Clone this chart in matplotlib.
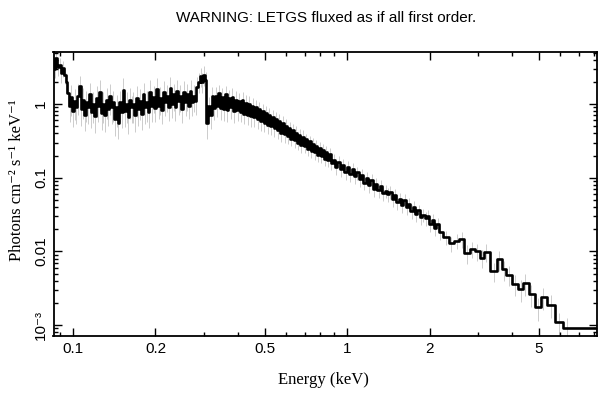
import numpy as np
import matplotlib
matplotlib.use("Agg")
import matplotlib.pyplot as plt
from matplotlib.ticker import FixedLocator, FixedFormatter, NullFormatter, LogLocator

plt.rcParams['font.family'] = ['Liberation Sans', 'DejaVu Sans']

# LETGS spectrum: bin centres (keV), flux, relative error
energy_soft = [0.0845, 0.0857, 0.0869, 0.0882, 0.0894, 0.0907, 0.0920, 0.0933, 0.0946, 0.0959,
               0.0973, 0.0987, 0.1001, 0.1015, 0.1029, 0.1044, 0.1059, 0.1074, 0.1089, 0.1104,
               0.1120, 0.1136, 0.1152, 0.1168, 0.1185, 0.1202, 0.1219, 0.1236, 0.1254, 0.1272,
               0.1290, 0.1308, 0.1327, 0.1346, 0.1365, 0.1384, 0.1404, 0.1424, 0.1444, 0.1464,
               0.1485, 0.1506, 0.1528, 0.1549, 0.1571, 0.1594, 0.1616, 0.1639, 0.1662, 0.1686,
               0.1710, 0.1734, 0.1759, 0.1784, 0.1809, 0.1835, 0.1861, 0.1887, 0.1914, 0.1941,
               0.1969, 0.1997, 0.2025, 0.2054, 0.2083, 0.2113, 0.2143, 0.2173, 0.2204, 0.2236,
               0.2267, 0.2300, 0.2332, 0.2365, 0.2399, 0.2433, 0.2468, 0.2503, 0.2538, 0.2574,
               0.2611, 0.2648, 0.2685, 0.2723, 0.2762, 0.2801, 0.2841, 0.2881, 0.2922, 0.2964,
               0.3006, 0.3049, 0.3092, 0.3136, 0.3180, 0.3225, 0.3271, 0.3318, 0.3365, 0.3413,
               0.3461, 0.3510, 0.3560, 0.3611, 0.3662, 0.3714, 0.3767, 0.3820, 0.3874, 0.3929,
               0.3985, 0.4042, 0.4099, 0.4157, 0.4216, 0.4276, 0.4337, 0.4399, 0.4461, 0.4524,
               0.4589, 0.4654, 0.4720, 0.4787, 0.4855, 0.4924, 0.4994, 0.5065, 0.5137, 0.5209,
               0.5283, 0.5359, 0.5435, 0.5512, 0.5590, 0.5669, 0.5750, 0.5832, 0.5914, 0.5998,
               0.6084, 0.6170, 0.6258, 0.6346, 0.6437, 0.6528, 0.6621, 0.6715, 0.6810, 0.6907,
               0.7005, 0.7104, 0.7205, 0.7307, 0.7411, 0.7516, 0.7623, 0.7731, 0.7841, 0.7952,
               0.8065, 0.8180, 0.8296, 0.8414, 0.8533, 0.8654, 0.8777]
flux_soft = [3.8, 3.0, 4.2, 3.2, 3.4, 2.6, 3.1, 2.5, 2.0, 1.4,
             0.95, 1.25, 0.8, 1.1, 0.9, 1.3, 1.75, 0.85, 1.15, 0.72,
             1.05, 0.9, 1.35, 0.78, 1.0, 0.68, 1.2, 0.95, 1.45, 0.75,
             1.0, 0.7, 1.15, 0.85, 1.3, 0.9, 1.05, 0.62, 0.9, 0.55,
             1.05, 0.78, 1.55, 0.8, 1.0, 0.66, 1.15, 0.92, 1.0, 0.7,
             1.2, 0.85, 1.1, 0.74, 1.35, 0.9, 1.05, 0.78, 1.45, 0.95,
             1.25, 0.88, 1.6, 0.95, 1.2, 0.82, 1.45, 1.05, 1.3, 0.9,
             1.65, 1.0, 1.35, 0.9, 1.5, 1.1, 1.3, 0.86, 1.45, 1.05,
             1.35, 0.95, 1.5, 1.05, 1.3, 1.1, 1.7, 2.0, 2.4, 2.0,
             2.5, 2.1, 0.55, 0.95, 0.7, 1.3, 0.88, 1.3, 0.95, 1.4,
             0.88, 1.25, 0.85, 1.35, 0.82, 1.2, 0.9, 1.25, 0.8, 1.15,
             0.82, 1.1, 0.78, 1.12, 0.74, 1.02, 0.72, 1.0, 0.68, 0.95,
             0.66, 0.9, 0.62, 0.86, 0.58, 0.8, 0.56, 0.76, 0.52, 0.7,
             0.5, 0.66, 0.47, 0.62, 0.44, 0.58, 0.41, 0.55, 0.39, 0.5,
             0.37, 0.47, 0.34, 0.44, 0.32, 0.41, 0.3, 0.38, 0.28, 0.36,
             0.27, 0.33, 0.245, 0.31, 0.23, 0.29, 0.22, 0.27, 0.205, 0.255,
             0.195, 0.24, 0.18, 0.225, 0.172, 0.21, 0.16]
err_soft = [0.25, 0.25, 0.25, 0.25, 0.25, 0.25, 0.25, 0.25, 0.3, 0.35,
            0.4, 0.45, 0.4, 0.45, 0.4, 0.45, 0.35, 0.4, 0.45, 0.4,
            0.45, 0.4, 0.45, 0.4, 0.45, 0.4, 0.45, 0.4, 0.45, 0.4,
            0.45, 0.4, 0.45, 0.4, 0.45, 0.4, 0.45, 0.4, 0.45, 0.4,
            0.45, 0.4, 0.45, 0.4, 0.45, 0.4, 0.45, 0.4, 0.45, 0.4,
            0.45, 0.4, 0.45, 0.4, 0.45, 0.4, 0.45, 0.4, 0.45, 0.4,
            0.4, 0.35, 0.4, 0.35, 0.4, 0.35, 0.4, 0.35, 0.4, 0.35,
            0.4, 0.35, 0.4, 0.35, 0.4, 0.35, 0.4, 0.35, 0.4, 0.35,
            0.4, 0.35, 0.4, 0.35, 0.4, 0.35, 0.35, 0.3, 0.3, 0.3,
            0.3, 0.3, 0.4, 0.3, 0.35, 0.3, 0.3, 0.3, 0.3, 0.3,
            0.3, 0.3, 0.3, 0.3, 0.3, 0.3, 0.3, 0.3, 0.3, 0.3,
            0.28, 0.28, 0.28, 0.28, 0.28, 0.28, 0.28, 0.28, 0.28, 0.28,
            0.25, 0.25, 0.25, 0.25, 0.25, 0.25, 0.25, 0.25, 0.25, 0.25,
            0.25, 0.25, 0.25, 0.25, 0.25, 0.25, 0.25, 0.25, 0.25, 0.25,
            0.22, 0.22, 0.22, 0.22, 0.22, 0.22, 0.22, 0.22, 0.22, 0.22,
            0.2, 0.2, 0.2, 0.2, 0.2, 0.2, 0.2, 0.2, 0.2, 0.2,
            0.2, 0.2, 0.2, 0.2, 0.2, 0.2, 0.2]

energy_mid = [0.895, 0.913, 0.931, 0.950, 0.969, 0.988, 1.008, 1.028, 1.049, 1.070,
              1.091, 1.113, 1.135, 1.158, 1.181, 1.205, 1.229, 1.253, 1.278, 1.304,
              1.330, 1.357, 1.384, 1.412, 1.440, 1.469, 1.498, 1.528, 1.559, 1.590,
              1.622, 1.654, 1.687, 1.721, 1.755, 1.790, 1.826, 1.863, 1.900, 1.938,
              1.977, 2.016, 2.057, 2.098, 2.140, 2.183]
flux_mid = [0.175, 0.14, 0.165, 0.13, 0.15, 0.118, 0.14, 0.112, 0.13, 0.104,
            0.118, 0.095, 0.108, 0.086, 0.1, 0.08, 0.094, 0.07, 0.083, 0.068,
            0.077, 0.062, 0.066, 0.06, 0.064, 0.052, 0.058, 0.047, 0.052, 0.043,
            0.05, 0.04, 0.044, 0.035, 0.04, 0.032, 0.036, 0.029, 0.031, 0.028,
            0.03, 0.0235, 0.027, 0.021, 0.0235, 0.0185]
err_mid = [0.2, 0.22, 0.2, 0.22, 0.2, 0.22, 0.2, 0.22, 0.2, 0.22,
           0.2, 0.22, 0.2, 0.22, 0.2, 0.22, 0.2, 0.22, 0.2, 0.22,
           0.2, 0.22, 0.2, 0.22, 0.2, 0.22, 0.2, 0.22, 0.2, 0.22,
           0.2, 0.22, 0.2, 0.22, 0.2, 0.22, 0.2, 0.22, 0.2, 0.22,
           0.2, 0.22, 0.2, 0.22, 0.2, 0.22]

energy_hard = [2.30, 2.40, 2.51, 2.62, 2.74, 2.86, 2.99, 3.12, 3.22, 3.44,
               3.60, 3.73, 3.90, 4.10, 4.30, 4.48, 4.71, 4.98, 5.21, 5.53,
               5.94, 6.35, 9.10]
flux_hard = [0.0155, 0.0128, 0.0140, 0.0148, 0.0095, 0.0108, 0.0100, 0.0082, 0.0098, 0.0054,
             0.0078, 0.0057, 0.0048, 0.0036, 0.0031, 0.0037, 0.0026, 0.00175, 0.0024, 0.0019,
             0.00109, 0.00091, 0.00091]
err_hard = [0.22, 0.24, 0.22, 0.25, 0.28, 0.25, 0.26, 0.28, 0.27, 0.3,
            0.3, 0.3, 0.3, 0.32, 0.33, 0.32, 0.33, 0.35, 0.33, 0.35,
            0.35, 0.35, 0.35]

energy = np.array(energy_soft + energy_mid + energy_hard)
flux = np.array(flux_soft + flux_mid + flux_hard)
rel_err = np.array(err_soft + err_mid + err_hard)

fig = plt.figure(figsize=(6.09, 3.98), dpi=100)
ax = fig.add_axes([53.5 / 609, 1 - 336 / 398, (596.7 - 53.5) / 609, (336 - 52) / 398])
ax.set_xscale('log')
ax.set_yscale('log')

ax.vlines(energy, flux * (1 - rel_err), flux * (1 + rel_err), color='0.8', lw=0.7, zorder=1)
ax.plot(energy, flux, drawstyle='steps-mid', color='black', lw=1.9, zorder=2)

ax.set_xlim(0.0849, 8.15)
ax.set_ylim(7.1e-4, 5.08)

# x ticks
ax.xaxis.set_major_locator(FixedLocator([0.1, 0.2, 0.5, 1, 2, 5]))
ax.xaxis.set_major_formatter(FixedFormatter(['0.1', '0.2', '0.5', '1', '2', '5']))
ax.xaxis.set_minor_locator(FixedLocator([0.09, 0.3, 0.4, 0.6, 0.7, 0.8, 0.9, 3, 4, 6, 7, 8]))
ax.xaxis.set_minor_formatter(NullFormatter())

# y ticks
ax.yaxis.set_major_locator(FixedLocator([1e-3, 1e-2, 0.1, 1]))
ax.yaxis.set_major_formatter(FixedFormatter(['10⁻³', '0.01', '0.1', '1']))
ax.yaxis.set_minor_locator(LogLocator(base=10, subs=np.arange(2, 10)))
ax.yaxis.set_minor_formatter(NullFormatter())

ax.tick_params(which='both', direction='in', top=True, right=True, width=1, colors='black')
ax.tick_params(which='major', length=6, labelsize=11, pad=4)
ax.tick_params(which='minor', length=3)
ax.tick_params(axis='y', labelrotation=90)
for lab in ax.get_yticklabels():
    lab.set_verticalalignment('center')

for sp in ax.spines.values():
    sp.set_linewidth(1.3)

fig.text(0.535, 0.955, 'WARNING: LETGS fluxed as if all first order.',
         ha='center', va='center', fontsize=11)
fig.text(323 / 609, 1 - 380 / 398, 'Energy (keV)', ha='center', va='center',
         fontsize=12, family=['Liberation Serif', 'DejaVu Serif'])
fig.text(17 / 609, 1 - 180 / 398, 'Photons cm⁻² s⁻¹ keV⁻¹', ha='center', va='center',
         rotation=90, fontsize=12, family=['Liberation Serif', 'DejaVu Serif'])

fig.savefig('out.png', dpi=100)
